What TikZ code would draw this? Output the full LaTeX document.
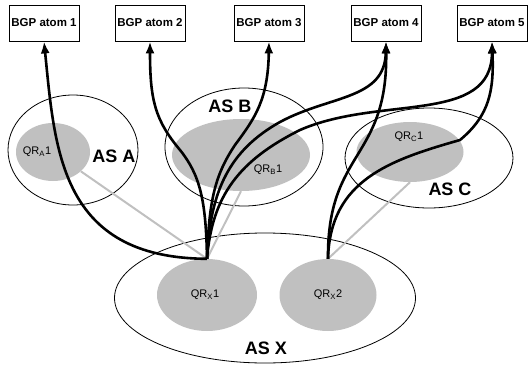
\documentclass[tikz,border=0pt]{standalone}
\usepackage{fontspec}
\setmainfont{Liberation Sans}
\usetikzlibrary{calc, arrows.meta, shapes.geometric}
\definecolor{qrgray}{RGB}{192,192,192}

\begin{document}
\begin{tikzpicture}[x=1pt, y=-1pt,
	atom/.style={draw, line width=0.8pt, minimum width=70pt, minimum height=36pt, inner sep=0pt, font=\fontsize{11.5}{13}\selectfont\bfseries},
	asreg/.style={draw, ellipse, line width=0.8pt, inner sep=0pt},
	qr/.style={ellipse, fill=qrgray, inner sep=0pt},
	aslabel/.style={font=\fontsize{18}{20}\selectfont\bfseries},
	qrlabel/.style={font=\fontsize{11}{12}\selectfont},
	route/.style={line width=2.6pt, -{Latex[length=12pt,width=9pt]}},
	peer/.style={line width=2pt, qrgray}]
	\useasboundingbox (0,0) rectangle (528,367);

	\node[atom] (B1) at (44,23) {BGP atom 1};
	\node[atom] (B2) at (150,23) {BGP atom 2};
	\node[atom] (B3) at (269,23) {BGP atom 3};
	\node[atom] (B4) at (386,23) {BGP atom 4};
	\node[atom] (B5) at (492,23) {BGP atom 5};

	\node[asreg, minimum width=130pt, minimum height=110pt] (A) at (73,150) {};
	\node[asreg, minimum width=158pt, minimum height=118pt] (B) at (244,147) {};
	\node[asreg, minimum width=168pt, minimum height=100pt] (C) at (429,158) {};
	\node[asreg, minimum width=301pt, minimum height=130pt] (X) at (265,298) {};

	\node[qr, minimum width=74pt, minimum height=58pt] (QA) at (53,152) {};
	\node[qr, minimum width=138pt, minimum height=72pt] (QB) at (241,155) {};
	\node[qr, minimum width=107pt, minimum height=60pt] (QC) at (410,152) {};
	\node[qr, minimum width=100pt, minimum height=72pt] (QX1) at (207,295) {};
	\node[qr, minimum width=97pt, minimum height=72pt] (QX2) at (328,295) {};

	\node[aslabel] (LA) at (114,156) {AS A};
	\node[aslabel] (LB) at (230,106) {AS B};
	\node[aslabel] (LC) at (450,189) {AS C};
	\node[aslabel] (LX) at (266,348) {AS X};

	\node[qrlabel] (TA) at (37,152) {QR\textsubscript{A}1};
	\node[qrlabel] (TB) at (268,170) {QR\textsubscript{B}1};
	\node[qrlabel] (TC) at (409,137) {QR\textsubscript{C}1};
	\node[qrlabel] (TX1) at (205,295) {QR\textsubscript{X}1};
	\node[qrlabel] (TX2) at (328,295) {QR\textsubscript{X}2};

	\draw[peer] (QX1.north) -- (QA);
	\draw[peer] (QX1.north) -- (QB.south);
	\draw[peer] (QX2.north) -- (QC.south);

	\draw[route] (QX1.north) .. controls (60,258) and (55,150) .. (B1.south);
	\draw[route] (QX1.north) .. controls (206,200) and (200,175) .. (180,150) .. controls (155,120) and (150,100) .. (B2.south);
	\draw[route] (QX1.north) .. controls (209,200) and (215,175) .. (235,145) .. controls (255,118) and (268,100) .. (B3.south);
	\draw[route] (QX1.north) .. controls (210,190) and (230,150) .. (280,122) .. controls (330,95) and (385,100) .. (B4.south);
	\draw[route] (QX1.north) .. controls (212,195) and (240,160) .. (300,130) .. controls (380,95) and (492,125) .. (B5.south);
	\draw[route] (QX2.north) .. controls (327,150) and (388,160) .. (B4.south);
	\draw[route] (QX2.north) .. controls (330,180) and (390,160) .. (460,140) .. controls (490,115) and (494,90) .. (B5.south);
\end{tikzpicture}
\end{document}
